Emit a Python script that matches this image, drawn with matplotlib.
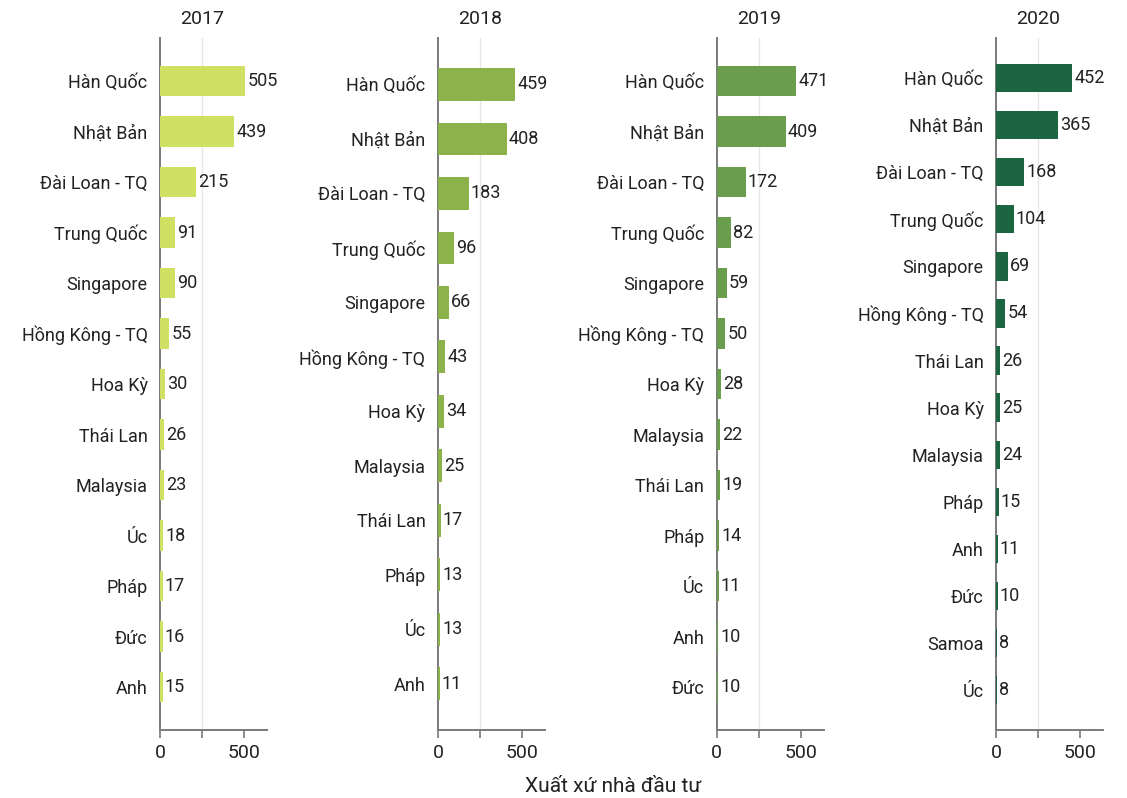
import matplotlib.pyplot as plt

plt.rcParams['font.family'] = ['Roboto', 'DejaVu Sans']

# Data: one list of countries and values per year
years = ['2017', '2018', '2019', '2020']

countries_2017 = ['Hàn Quốc', 'Nhật Bản', 'Đài Loan - TQ', 'Trung Quốc', 'Singapore',
                  'Hồng Kông - TQ', 'Hoa Kỳ', 'Thái Lan', 'Malaysia', 'Úc', 'Pháp', 'Đức', 'Anh']
values_2017 = [505, 439, 215, 91, 90, 55, 30, 26, 23, 18, 17, 16, 15]

countries_2018 = ['Hàn Quốc', 'Nhật Bản', 'Đài Loan - TQ', 'Trung Quốc', 'Singapore',
                  'Hồng Kông - TQ', 'Hoa Kỳ', 'Malaysia', 'Thái Lan', 'Pháp', 'Úc', 'Anh']
values_2018 = [459, 408, 183, 96, 66, 43, 34, 25, 17, 13, 13, 11]

countries_2019 = ['Hàn Quốc', 'Nhật Bản', 'Đài Loan - TQ', 'Trung Quốc', 'Singapore',
                  'Hồng Kông - TQ', 'Hoa Kỳ', 'Malaysia', 'Thái Lan', 'Pháp', 'Úc', 'Anh', 'Đức']
values_2019 = [471, 409, 172, 82, 59, 50, 28, 22, 19, 14, 11, 10, 10]

countries_2020 = ['Hàn Quốc', 'Nhật Bản', 'Đài Loan - TQ', 'Trung Quốc', 'Singapore',
                  'Hồng Kông - TQ', 'Thái Lan', 'Hoa Kỳ', 'Malaysia', 'Pháp', 'Anh', 'Đức',
                  'Samoa', 'Úc']
values_2020 = [452, 365, 168, 104, 69, 54, 26, 25, 24, 15, 11, 10, 8, 8]

colors = ['#cfe063', '#8cb24a', '#6b9e4c', '#1b6640']

panels = [
    (countries_2017, values_2017),
    (countries_2018, values_2018),
    (countries_2019, values_2019),
    (countries_2020, values_2020),
]

fig = plt.figure(figsize=(11.27, 7.98), dpi=100)
lefts = [0.142, 0.3886, 0.636, 0.8838]
text_color = '#222222'
axis_color = '#7a7a7a'

for i, (names, vals) in enumerate(panels):
    ax = fig.add_axes([lefts[i], 0.0852, 0.095, 0.867])
    n = len(names)
    pos = list(range(n))
    ax.barh(pos, vals, height=0.6, color=colors[i], zorder=3)
    for p, v in zip(pos, vals):
        ax.annotate(str(v), (v, p), xytext=(1.5, 0), textcoords='offset points',
                    ha='left', va='center', fontsize=13, color=text_color, zorder=4)
    ax.set_ylim(n - 1 + 0.85, -0.85)
    ax.set_xlim(0, 635)
    ax.set_yticks(pos)
    ax.set_yticklabels(names, fontsize=13, color=text_color)
    ax.tick_params(axis='y', length=0, pad=9)
    ax.set_xticks([0, 250, 500])
    ax.set_xticklabels(['0', '', '500'], fontsize=14, color=text_color)
    ax.tick_params(axis='x', length=6, width=1.2, color=axis_color, pad=4)
    ax.axvline(250, color='#e6e6e6', lw=1, zorder=1)
    for s in ['top', 'right']:
        ax.spines[s].set_visible(False)
    for s in ['left', 'bottom']:
        ax.spines[s].set_color(axis_color)
        ax.spines[s].set_linewidth(1.4)
    ax.annotate(years[i], xy=(250, 1), xycoords=('data', 'axes fraction'),
                xytext=(0, 14), textcoords='offset points',
                ha='center', va='center', fontsize=14, color=text_color)

fig.text(0.544, 0.014, 'Xuất xứ nhà đầu tư', ha='center', va='center',
         fontsize=15, color=text_color)

fig.savefig('out.png', dpi=100, facecolor='white')
